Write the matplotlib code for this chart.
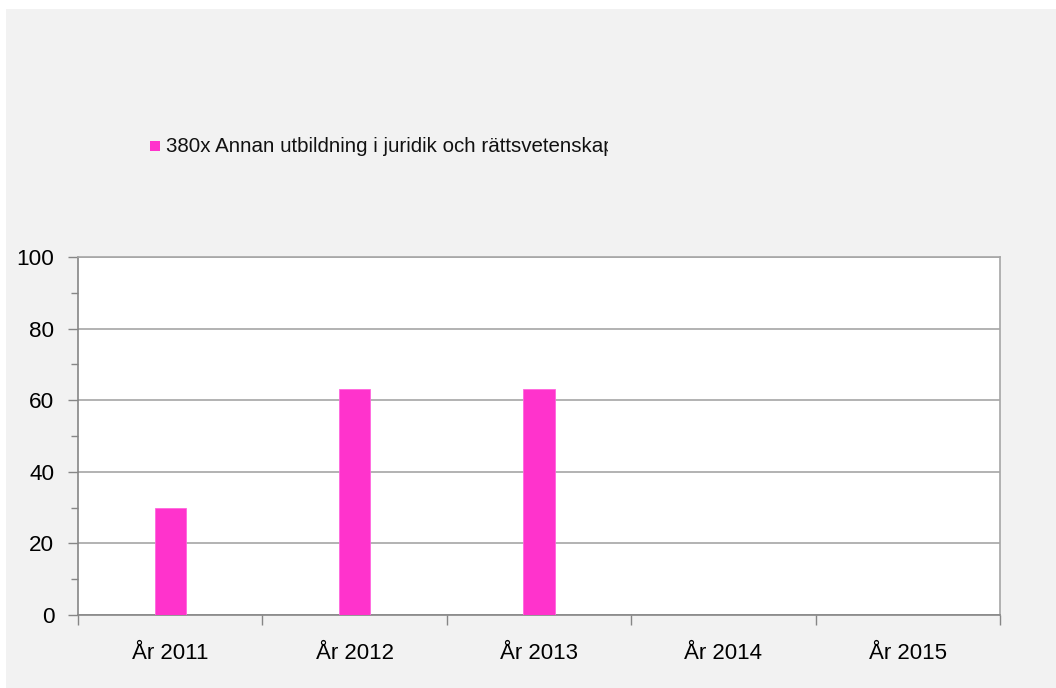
import matplotlib
matplotlib.use("Agg")
import matplotlib.pyplot as plt
from matplotlib.patches import Rectangle
from matplotlib.transforms import Bbox, TransformedBbox

categories = ["År 2011", "År 2012", "År 2013", "År 2014", "År 2015"]
values = [30, 63, 63, 0, 0]
series_name = "380x Annan utbildning i juridik och rättsvetenskap"
yticks = [0, 20, 40, 60, 80, 100]

plt.rcParams['font.family'] = ['Liberation Sans', 'DejaVu Sans']

W, H = 1056, 688
fig = plt.figure(figsize=(W / 100, H / 100), dpi=100)
fig.patch.set_facecolor("white")
# gray chart area background
fig.patches.append(Rectangle((6 / W, -0.01), 1.02 - 6 / W, 1.01 - 9 / H, transform=fig.transFigure,
                             facecolor="#f2f2f2", edgecolor="none", zorder=-5))

ax = fig.add_axes([78 / W, (H - 615) / H, 922 / W, 358 / H])
ax.set_zorder(2)
ax.set_facecolor("white")
x = list(range(len(categories)))
ax.bar(x, values, width=0.17, color="#ff33cc", edgecolor="#ff66dd", linewidth=0.6, zorder=3)

ax.set_xlim(-0.5, len(categories) - 0.5)
ax.set_ylim(0, 100)
ax.set_yticks(yticks)
ax.set_yticks(range(0, 101, 10), minor=True)
ax.yaxis.grid(True, which="major", color="#a6a6a6", linewidth=1.2, zorder=1)
ax.set_axisbelow(True)

ax.set_xticks(x)
ax.set_xticklabels(categories)
ax.set_xticks([i - 0.5 for i in range(len(categories) + 1)], minor=True)
ax.tick_params(axis="x", which="major", length=0, pad=20, labelsize=16)
ax.tick_params(axis="x", which="minor", length=7, color="#868686", width=1, direction="out")
ax.tick_params(axis="y", which="major", length=7, color="#868686", width=1, labelsize=16.2, pad=10)
ax.tick_params(axis="y", which="minor", length=5, color="#868686", width=1)

for s in ["left", "bottom"]:
    ax.spines[s].set_color("#868686")
    ax.spines[s].set_linewidth(1.2)
for s in ["top", "right"]:
    ax.spines[s].set_color("#a6a6a6")
    ax.spines[s].set_linewidth(1.2)

# legend
fig.patches.append(Rectangle((150 / W, 1 - 151 / H), 10 / W, 10 / H, transform=fig.transFigure,
                             facecolor="#ff33cc", edgecolor="none", zorder=2))
t = fig.text(166 / W, 1 - 146 / H, series_name, fontsize=14.8, va="center", ha="left", color="#111111")
clip = TransformedBbox(Bbox([[0, 0], [608 / W, 1]]), fig.transFigure)
t.set_clip_box(clip)
t.set_clip_on(True)

fig.savefig("out.png", dpi=100, facecolor=fig.get_facecolor())
